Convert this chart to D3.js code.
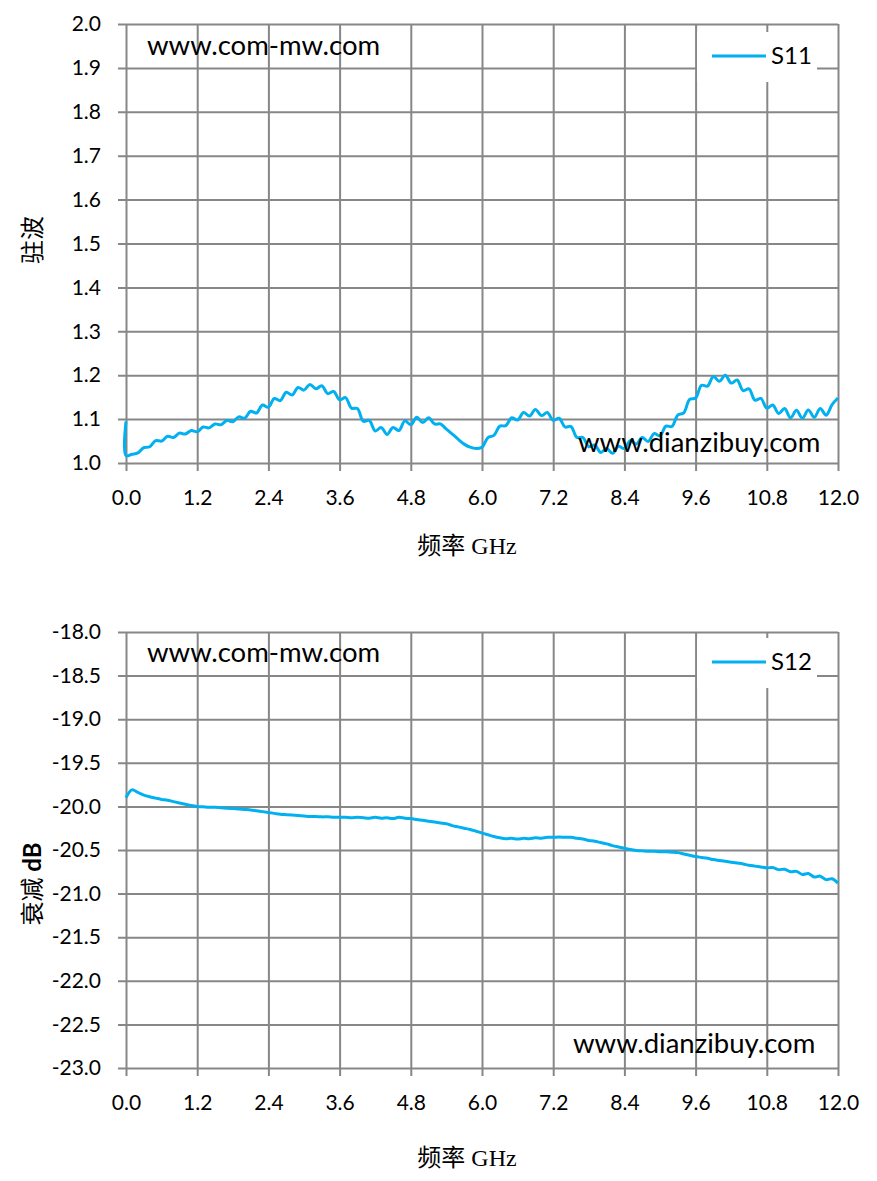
<!DOCTYPE html>
<html>
<head>
<meta charset="utf-8">
<script src="https://cdn.jsdelivr.net/npm/d3@7"></script>
<style>
  body { margin: 0; background: #fff; }
  .tick text { font-family: Lato, 'Noto Sans', sans-serif; font-size: 21px; fill: #000; }
  .grid line { stroke: #878787; stroke-width: 2px; }
  .url { font-family: Lato, 'Noto Sans', sans-serif; font-size: 27.5px; fill: #000; }
  .legend { font-family: Lato, 'Noto Sans', sans-serif; font-size: 24px; fill: #000; }
  .title { font-family: 'Liberation Serif', 'Noto Sans CJK SC', serif; font-size: 24px; fill: #000; }
</style>
</head>
<body>
<div id="chart"></div>
<script>
// frequency grid, GHz
var freqGHz = d3.range(0, 121).map(function (i) { return i / 10; });

var xTicks = [0, 1.2, 2.4, 3.6, 4.8, 6.0, 7.2, 8.4, 9.6, 10.8, 12.0];
var s11Ticks = [1.0, 1.1, 1.2, 1.3, 1.4, 1.5, 1.6, 1.7, 1.8, 1.9, 2.0];
var s12Ticks = [-23, -22.5, -22, -21.5, -21, -20.5, -20, -19.5, -19, -18.5, -18];

// S11 jumps at 0 GHz: first sample before the drop
var s11Start = 1.095;
var s11 = [
  1.017, 1.020, 1.023, 1.035, 1.037, 1.051, 1.050, 1.061, 1.058, 1.068,
  1.066, 1.074, 1.071, 1.082, 1.080, 1.089, 1.087, 1.097, 1.094, 1.105,
  1.102, 1.118, 1.114, 1.132, 1.127, 1.147, 1.142, 1.161, 1.155, 1.172,
  1.166, 1.179, 1.169, 1.176, 1.158, 1.163, 1.144, 1.149, 1.125, 1.124,
  1.095, 1.097, 1.073, 1.081, 1.065, 1.081, 1.074, 1.096, 1.087, 1.104,
  1.092, 1.103, 1.089, 1.089, 1.077, 1.066, 1.054, 1.043, 1.036, 1.033,
  1.036, 1.058, 1.063, 1.084, 1.085, 1.103, 1.098, 1.115, 1.107, 1.122,
  1.108, 1.115, 1.097, 1.102, 1.082, 1.083, 1.058, 1.058, 1.037, 1.041,
  1.024, 1.033, 1.022, 1.038, 1.033, 1.051, 1.043, 1.058, 1.049, 1.067,
  1.062, 1.084, 1.083, 1.109, 1.114, 1.145, 1.148, 1.177, 1.175, 1.197,
  1.186, 1.200, 1.182, 1.189, 1.165, 1.169, 1.143, 1.147, 1.125, 1.132,
  1.113, 1.124, 1.103, 1.120, 1.102, 1.121, 1.104, 1.124, 1.109, 1.133,
  1.148
];

var s12 = [
  -19.90, -19.81, -19.84, -19.87, -19.89, -19.905, -19.92, -19.93, -19.945, -19.96,
  -19.975, -19.99, -20.00, -20.005, -20.01, -20.01, -20.015, -20.02, -20.025, -20.03,
  -20.035, -20.04, -20.05, -20.06, -20.07, -20.08, -20.09, -20.095, -20.10, -20.105,
  -20.11, -20.115, -20.115, -20.12, -20.12, -20.125, -20.125, -20.125, -20.13, -20.125,
  -20.13, -20.135, -20.125, -20.135, -20.13, -20.14, -20.125, -20.135, -20.14, -20.15,
  -20.16, -20.17, -20.18, -20.19, -20.20, -20.22, -20.235, -20.25, -20.265, -20.285,
  -20.305, -20.325, -20.345, -20.36, -20.37, -20.365, -20.375, -20.365, -20.37, -20.36,
  -20.365, -20.355, -20.355, -20.35, -20.355, -20.355, -20.365, -20.375, -20.39, -20.40,
  -20.415, -20.43, -20.45, -20.465, -20.48, -20.495, -20.505, -20.51, -20.515, -20.515,
  -20.52, -20.52, -20.525, -20.53, -20.545, -20.56, -20.575, -20.585, -20.595, -20.61,
  -20.62, -20.63, -20.64, -20.65, -20.66, -20.675, -20.685, -20.695, -20.705, -20.70,
  -20.725, -20.72, -20.75, -20.745, -20.78, -20.77, -20.81, -20.80, -20.84, -20.83,
  -20.88
];

var lineColor = "#00B0F0";
var svg = d3.select("#chart").append("svg").attr("width", 877).attr("height", 1181);

var left = 126, right = 838, w = right - left;

function drawChart(o) {
  var h = o.bottom - o.top;
  var g = svg.append("g").attr("transform", "translate(" + left + "," + o.top + ")");
  var x = d3.scaleLinear().domain([0, 12]).range([0, w]);
  var y = d3.scaleLinear().domain(o.yDomain).range([h, 0]);

  // horizontal grid + y labels (lines run from -8 to w)
  var ya = g.append("g").attr("class", "grid").attr("transform", "translate(" + w + ",0)")
    .call(d3.axisLeft(y).tickValues(o.yTicks).tickSize(w + 8).tickPadding(17)
      .tickFormat(function (d) { return d.toFixed(1); }));
  ya.select(".domain").remove();

  // vertical grid + x labels
  var xa = g.append("g").attr("class", "grid")
    .call(d3.axisBottom(x).tickValues(xTicks).tickSize(h + 8).tickPadding(19)
      .tickFormat(function (d) { return d.toFixed(1); }));
  xa.select(".domain").remove();

  // legend box (blanks the grid under it)
  var legY = o.legY - o.top;
  g.append("rect").attr("x", 697 - left).attr("y", legY - 24)
    .attr("width", 120).attr("height", 50).attr("fill", "#fff");
  g.append("line").attr("x1", 712 - left).attr("x2", 766 - left)
    .attr("y1", legY).attr("y2", legY)
    .attr("stroke", lineColor).attr("stroke-width", 3);
  g.append("text").attr("class", "legend").attr("x", 771 - left).attr("y", legY + 8).text(o.name);

  var line = d3.line().x(function (d) { return x(d[0]); }).y(function (d) { return y(d[1]); })
    .curve(d3.curveCatmullRom.alpha(0.5));
  g.append("path").datum(o.points).attr("d", line)
    .attr("fill", "none").attr("stroke", lineColor).attr("stroke-width", 3)
    .attr("stroke-linejoin", "round");

  g.append("text").attr("class", "url").attr("x", 147 - left).attr("y", o.url1Y - o.top).text("www.com-mw.com");
  g.append("text").attr("class", "url").attr("x", o.url2X - left).attr("y", o.url2Y - o.top).text("www.dianzibuy.com");

  // axis titles
  svg.append("text").attr("class", "title").attr("x", 467).attr("y", o.xTitleY)
    .attr("text-anchor", "middle").text("频率 GHz");
  var yt = svg.append("text").attr("class", "title").attr("text-anchor", "middle")
    .attr("transform", "translate(41," + o.yTitleC + ") rotate(-90)");
  yt.append("tspan").text(o.yTitle);
  if (o.yTitleB) {
    yt.append("tspan").attr("font-family", "Lato, sans-serif").attr("font-weight", "bold")
      .text(" " + o.yTitleB);
  }
}

var s11Points = [[0, s11Start]].concat(freqGHz.map(function (f, i) { return [f, s11[i]]; }));
var s12Points = freqGHz.map(function (f, i) { return [f, s12[i]]; });

drawChart({
  top: 24, bottom: 463, yDomain: [1.0, 2.0], yTicks: s11Ticks, name: "S11",
  points: s11Points, legY: 56, url1Y: 55, url2X: 578, url2Y: 452,
  xTitleY: 554, yTitle: "驻波", yTitleC: 240
});
drawChart({
  top: 632, bottom: 1068, yDomain: [-23, -18], yTicks: s12Ticks, name: "S12",
  points: s12Points, legY: 662, url1Y: 662, url2X: 573, url2Y: 1053,
  xTitleY: 1166, yTitle: "衰减", yTitleB: "dB", yTitleC: 884
});
</script>
</body>
</html>
